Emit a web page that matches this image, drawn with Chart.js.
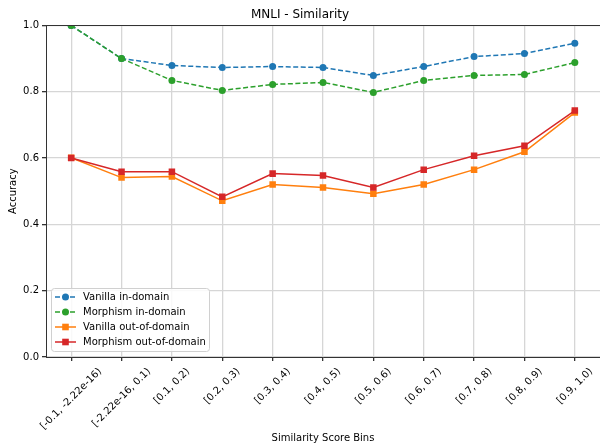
<!DOCTYPE html>
<html>
<head>
<meta charset="utf-8">
<script src="https://cdn.jsdelivr.net/npm/chart.js@4.4.1/dist/chart.umd.min.js"></script>
<style>
    body { margin: 0; background: #fff; }
    #wrap { width: 600px; height: 448px; }
</style>
</head>
<body>
<div id="wrap"><canvas id="simChart"></canvas></div>
<script>
// Similarity bins
const bins = ['[-0.1, -2.22e-16)', '[-2.22e-16, 0.1)', '[0.1, 0.2)', '[0.2, 0.3)', '[0.3, 0.4)',
    '[0.4, 0.5)', '[0.5, 0.6)', '[0.6, 0.7)', '[0.7, 0.8)', '[0.8, 0.9)', '[0.9, 1.0)'];

// Accuracy per bin
const vanillaIn = [1.0, 0.900, 0.879, 0.873, 0.876, 0.873, 0.849, 0.876, 0.906, 0.915, 0.946];
const morphismIn = [1.0, 0.900, 0.834, 0.804, 0.822, 0.828, 0.798, 0.834, 0.849, 0.852, 0.888];
const vanillaOut = [0.601, 0.541, 0.544, 0.471, 0.520, 0.511, 0.492, 0.520, 0.565, 0.619, 0.737];
const morphismOut = [0.600, 0.559, 0.559, 0.483, 0.553, 0.547, 0.511, 0.565, 0.607, 0.637, 0.743];

const yTicks = [0, 0.2, 0.4, 0.6, 0.8, 1.0];

const FONT = 'DejaVu Sans';

function series(label, data, color, style, dashed, order) {
    return {
        label: label,
        data: data,
        borderColor: color,
        backgroundColor: color,
        borderWidth: 1.5,
        borderDash: dashed ? [5, 2.5] : [],
        pointStyle: style,
        pointRadius: style === 'rect' ? 4.6 : 3.5,
        pointBorderWidth: 0,
        tension: 0,
        order: order
    };
}

// matplotlib-style top spine (right one sits just off the canvas)
const framePlugin = {
    id: 'frame',
    afterDatasetsDraw(chart) {
        const a = chart.chartArea;
        const ctx = chart.ctx;
        ctx.save();
        ctx.strokeStyle = '#333';
        ctx.lineWidth = 1;
        ctx.beginPath();
        ctx.moveTo(a.left, Math.round(a.top) + 0.5);
        ctx.lineTo(chart.width, Math.round(a.top) + 0.5);
        ctx.stroke();
        ctx.restore();
    }
};

// x tick labels, rotated 45deg and centred under the tick like matplotlib
const xLabels = {
    id: 'xLabels',
    afterDraw(chart) {
        const ctx = chart.ctx;
        const xs = chart.scales.x;
        ctx.save();
        ctx.font = '10px "' + FONT + '"';
        ctx.fillStyle = '#000';
        ctx.textAlign = 'center';
        ctx.textBaseline = 'middle';
        const top = chart.chartArea.bottom + 9;
        chart.data.labels.forEach((lab, i) => {
            const w = ctx.measureText(lab).width;
            const half = (w + 11) * Math.SQRT1_2 / 2;
            ctx.save();
            ctx.translate(xs.getPixelForTick(i), top + half);
            ctx.rotate(-Math.PI / 4);
            ctx.fillText(lab, 0, 0);
            ctx.restore();
        });
        ctx.restore();
    }
};

// legend inside the plot, lower left
const innerLegend = {
    id: 'innerLegend',
    afterDraw(chart) {
        const ctx = chart.ctx;
        const a = chart.chartArea;
        const x = a.left + 5, y = a.bottom - 69, w = 158, h = 63;
        ctx.save();
        ctx.fillStyle = 'rgba(255,255,255,0.85)';
        ctx.strokeStyle = '#d0d0d0';
        ctx.lineWidth = 1;
        ctx.beginPath();
        ctx.roundRect(x + 0.5, y + 0.5, w, h, 3);
        ctx.fill();
        ctx.stroke();
        ctx.font = '10px "' + FONT + '"';
        ctx.textBaseline = 'middle';
        chart.data.datasets.forEach((ds, i) => {
            const ly = y + 9 + i * 15;
            ctx.strokeStyle = ds.borderColor;
            ctx.lineWidth = 1.5;
            ctx.setLineDash(ds.borderDash);
            ctx.beginPath();
            ctx.moveTo(x + 4, ly);
            ctx.lineTo(x + 25, ly);
            ctx.stroke();
            ctx.setLineDash([]);
            ctx.fillStyle = ds.backgroundColor;
            if (ds.pointStyle === 'rect') {
                ctx.fillRect(x + 14.5 - 3.3, ly - 3.3, 6.6, 6.6);
            } else {
                ctx.beginPath();
                ctx.arc(x + 14.5, ly, 3.5, 0, Math.PI * 2);
                ctx.fill();
            }
            ctx.fillStyle = '#000';
            ctx.fillText(ds.label, x + 32, ly + 0.5);
        });
        ctx.restore();
    }
};

new Chart(document.getElementById('simChart'), {
    type: 'line',
    data: {
        labels: bins,
        datasets: [
            series('Vanilla in-domain', vanillaIn, '#1f77b4', 'circle', true, 3),
            series('Morphism in-domain', morphismIn, '#2ca02c', 'circle', true, 2),
            series('Vanilla out-of-domain', vanillaOut, '#ff7f0e', 'rect', false, 1),
            series('Morphism out-of-domain', morphismOut, '#d62728', 'rect', false, 0)
        ]
    },
    options: {
        responsive: true,
        maintainAspectRatio: false,
        animation: false,
        layout: { autoPadding: false, padding: { right: 0, left: 0, top: 0, bottom: 0 } },
        plugins: {
            legend: { display: false },
            tooltip: { enabled: false },
            title: {
                display: true,
                text: 'MNLI - Similarity',
                color: '#000',
                font: { family: FONT, size: 12, weight: 'normal' },
                padding: { top: 8, bottom: 3 }
            }
        },
        scales: {
            x: {
                offset: true,
                grid: { color: '#d6d6d6', lineWidth: 1.3, tickLength: 4, tickColor: '#333' },
                border: { color: '#333' },
                ticks: { display: false },
                title: {
                    display: true,
                    text: 'Similarity Score Bins',
                    color: '#000',
                    font: { family: FONT, size: 10 },
                    padding: { top: 0, bottom: 4 }
                },
                afterFit(scale) {
                    scale.height = 91;
                    scale.paddingLeft = 0;
                    scale.paddingRight = 0;
                }
            },
            y: {
                min: 0,
                max: 1,
                grid: { color: '#d6d6d6', lineWidth: 1.3, tickLength: 4, tickColor: '#333' },
                border: { color: '#333' },
                afterBuildTicks(scale) {
                    scale.ticks = yTicks.map(v => ({ value: v }));
                },
                ticks: {
                    color: '#000',
                    font: { family: FONT, size: 10 },
                    padding: 3,
                    callback: v => v.toFixed(1)
                },
                title: {
                    display: true,
                    text: 'Accuracy',
                    color: '#000',
                    font: { family: FONT, size: 10 },
                    padding: { top: 7, bottom: 0 }
                },
                afterFit(scale) {
                    scale.width = 46;
                }
            }
        }
    },
    plugins: [framePlugin, xLabels, innerLegend]
});
</script>
</body>
</html>
